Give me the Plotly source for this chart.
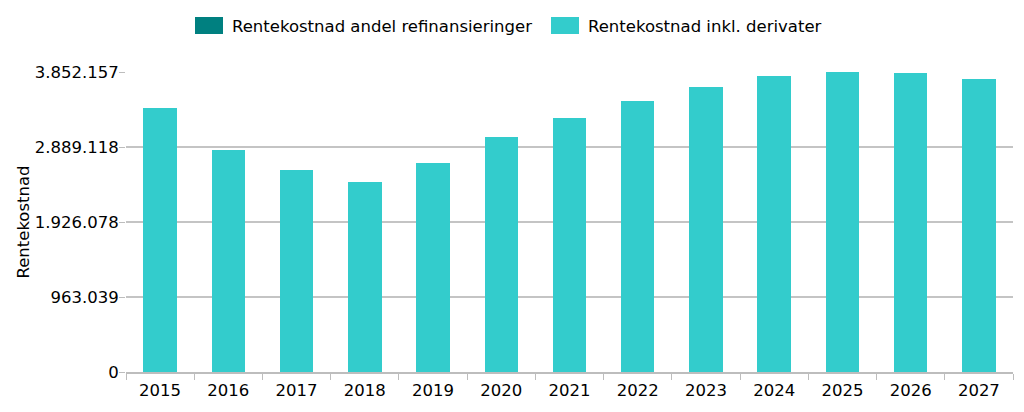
import plotly.graph_objects as go

years = ["2015", "2016", "2017", "2018", "2019", "2020", "2021",
         "2022", "2023", "2024", "2025", "2026", "2027"]
refinansiering = [0, 0, 0, 0, 0, 0, 0, 0, 0, 0, 0, 0, 0]
inkl_derivater = [3386000, 2850600, 2597500, 2443500, 2679800, 3021300, 3265500,
                  3479800, 3663400, 3800800, 3852157, 3843200, 3762300]
tick_vals = [0, 963039, 1926078, 2889118, 3852157]
tick_text = ["0", "963.039", "1.926.078", "2.889.118", "3.852.157"]

series_names = ["Rentekostnad andel refinansieringer", "Rentekostnad inkl. derivater"]
series_colors = ["#008080", "#33CCCC"]

FONT = "DejaVu Sans"
FS = 16.5

fig = go.Figure()
fig.add_trace(go.Bar(x=years, y=refinansiering, name=series_names[0],
                     marker=dict(color=series_colors[0], line=dict(width=0)),
                     showlegend=False))
fig.add_trace(go.Bar(x=years, y=inkl_derivater, name=series_names[1],
                     marker=dict(color=series_colors[1], line=dict(width=0)),
                     showlegend=False))

L, R, T, B = 126, 11, 72, 40
W, H = 1024, 412
pw = W - L - R
ph = H - T - B

def px_x(px):
    return (px - L) / pw

def px_y(py):
    return (H - B - py) / ph

# manual legend (large swatches like the reference)
legend_items = [(195, 230), (551, 586)]
for (sx, tx), name, col in zip(legend_items, series_names, series_colors):
    fig.add_shape(type="rect", xref="paper", yref="paper",
                  x0=px_x(sx), x1=px_x(sx + 28), y0=px_y(34), y1=px_y(17),
                  fillcolor=col, line=dict(width=0))
    fig.add_annotation(xref="paper", yref="paper", x=px_x(tx), y=px_y(26),
                       text=name, showarrow=False, xanchor="left", yanchor="middle",
                       font=dict(family=FONT, size=FS, color="#000000"))

fig.update_layout(
    width=W, height=H,
    margin=dict(l=L, r=R, t=T, b=B, pad=0),
    barmode="stack",
    bargap=0.51,
    plot_bgcolor="white",
    paper_bgcolor="white",
    font=dict(family=FONT, size=FS, color="#000000"),
    showlegend=False,
)
fig.update_xaxes(
    type="category",
    showline=True, linecolor="#bdbdbd", linewidth=1.5,
    ticks="outside", tickson="boundaries", ticklen=6, tickcolor="#bdbdbd",
    ticklabelstandoff=2,
    showgrid=False,
    tickfont=dict(family=FONT, size=FS, color="#000000"),
)
fig.update_yaxes(
    range=[0, 3852157],
    tickvals=tick_vals, ticktext=tick_text,
    showgrid=True, gridcolor="#c4c4c4", gridwidth=1.5,
    ticks="outside", ticklen=6, tickcolor="#bdbdbd",
    ticklabelstandoff=-3,
    showline=False, zeroline=False,
    title=dict(text="Rentekostnad", font=dict(family=FONT, size=FS, color="#000000"), standoff=0),
    tickfont=dict(family=FONT, size=FS, color="#000000"),
)

fig.write_html("out.html")
